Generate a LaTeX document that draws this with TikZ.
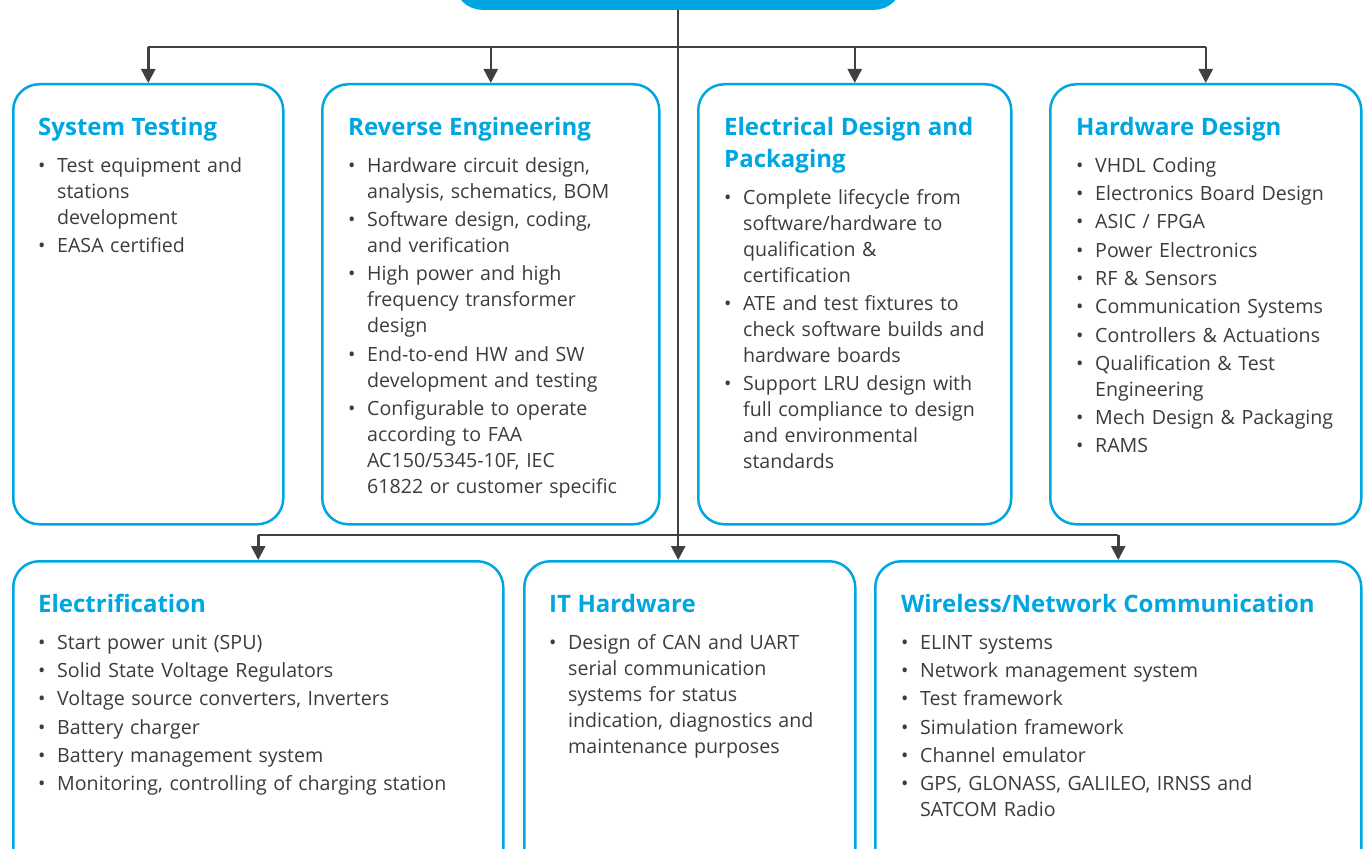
\documentclass[tikz,border=0pt]{standalone}
\usepackage{fontspec}
\setmainfont{Open Sans}
\usetikzlibrary{arrows.meta}
\definecolor{cblue}{HTML}{00A6E0}
\definecolor{ctext}{HTML}{3C3C3E}
\definecolor{cline}{HTML}{404044}
\newcommand{\bi}[1]{\par\hangindent=19pt\hangafter=1\noindent\hbox to 19pt{\textbullet\hfil}#1\par}
\newcommand{\ttl}[1]{{\fontsize{24}{32}\selectfont\bfseries\color{cblue}#1\par}\vspace{8.5pt}}
\tikzset{
  box/.style={draw=cblue, line width=2.5pt, rounded corners=26pt, inner sep=0pt, anchor=north west},
  txt/.style={anchor=north west, inner sep=0pt, text=ctext, align=left,
    font=\fontsize{19.6}{26}\selectfont\setlength{\parskip}{2.3pt}},
  conn/.style={draw=cline, line width=2.5pt},
  arr/.style={conn, -{Triangle[length=14pt,width=14pt]}},
}
\begin{document}
\begin{tikzpicture}[x=1pt,y=-1pt]
\useasboundingbox (0,0) rectangle (1364,848);
\clip (0,0) rectangle (1364,848);
\fill[white] (0,0) rectangle (1364,848);
% top box
\node[fill=cblue, rounded corners=28pt, minimum width=448pt, minimum height=60pt, anchor=south west, inner sep=0pt] (top) at (454,10) {};
% top row boxes
\node[box, minimum width=270pt, minimum height=440pt] (st) at (12,83) {};
\node[box, minimum width=337pt, minimum height=440pt] (re) at (321,83) {};
\node[box, minimum width=313pt, minimum height=440pt] (ed) at (697,83) {};
\node[box, minimum width=311pt, minimum height=440pt] (hd) at (1049,83) {};
% bottom row boxes
\node[box, minimum width=490pt, minimum height=320pt] (el) at (12,560) {};
\node[box, minimum width=331pt, minimum height=320pt] (it) at (523,560) {};
\node[box, minimum width=486pt, minimum height=320pt] (wn) at (874,560) {};
% connectors
\coordinate (bar1) at (678,47);
\coordinate (bar2) at (678,535);
\draw[conn] (st.north |- bar1) -- (hd.north |- bar1);
\draw[conn] (el.north |- bar2) -- (wn.north |- bar2);
\draw[arr] (top.south) -- (top.south |- it.north);
\foreach \b in {st,re,ed,hd}{\draw[arr] (\b.north |- bar1) -- (\b.north);}
\foreach \b in {el,wn}{\draw[arr] (\b.north |- bar2) -- (\b.north);}
% texts
\node[txt, text width=240pt] (st-t) at (38,117) {\ttl{System Testing}%
\bi{Test equipment and\newline stations\newline development}%
\bi{EASA certified}};
\node[txt, text width=310pt] (re-t) at (348,117) {\ttl{Reverse Engineering}%
\bi{Hardware circuit design,\newline analysis, schematics, BOM}%
\bi{Software design, coding,\newline and verification}%
\bi{High power and high\newline frequency transformer\newline design}%
\bi{End-to-end HW and SW\newline development and testing}%
\bi{Configurable to operate\newline according to FAA\newline AC150/5345-10F, IEC\newline 61822 or customer specific}};
\node[txt, text width=290pt] (ed-t) at (724,117) {\ttl{Electrical Design and\newline Packaging}%
\bi{Complete lifecycle from\newline software/hardware to\newline qualification \&\newline certification}%
\bi{ATE and test fixtures to\newline check software builds and\newline hardware boards}%
\bi{Support LRU design with\newline full compliance to design\newline and environmental\newline standards}};
\node[txt, text width=285pt] (hd-t) at (1076,117) {\ttl{Hardware Design}%
\bi{VHDL Coding}\bi{Electronics Board Design}\bi{ASIC / FPGA}\bi{Power Electronics}%
\bi{RF \& Sensors}\bi{Communication Systems}\bi{Controllers \& Actuations}%
\bi{Qualification \& Test\newline Engineering}\bi{Mech Design \& Packaging}\bi{RAMS}};
\node[txt, text width=460pt] (el-t) at (38,594) {\ttl{Electrification}%
\bi{Start power unit (SPU)}\bi{Solid State Voltage Regulators}%
\bi{Voltage source converters, Inverters}\bi{Battery charger}%
\bi{Battery management system}\bi{Monitoring, controlling of charging station}};
\node[txt, text width=300pt] (it-t) at (549,594) {\ttl{IT Hardware}%
\bi{Design of CAN and UART\newline serial communication\newline systems for status\newline indication, diagnostics and\newline maintenance purposes}};
\node[txt, text width=455pt] (wn-t) at (901,594) {\ttl{Wireless/Network Communication}%
\bi{ELINT systems}\bi{Network management system}\bi{Test framework}%
\bi{Simulation framework}\bi{Channel emulator}%
\bi{GPS, GLONASS, GALILEO, IRNSS and\newline SATCOM Radio}};
\end{tikzpicture}
\end{document}
